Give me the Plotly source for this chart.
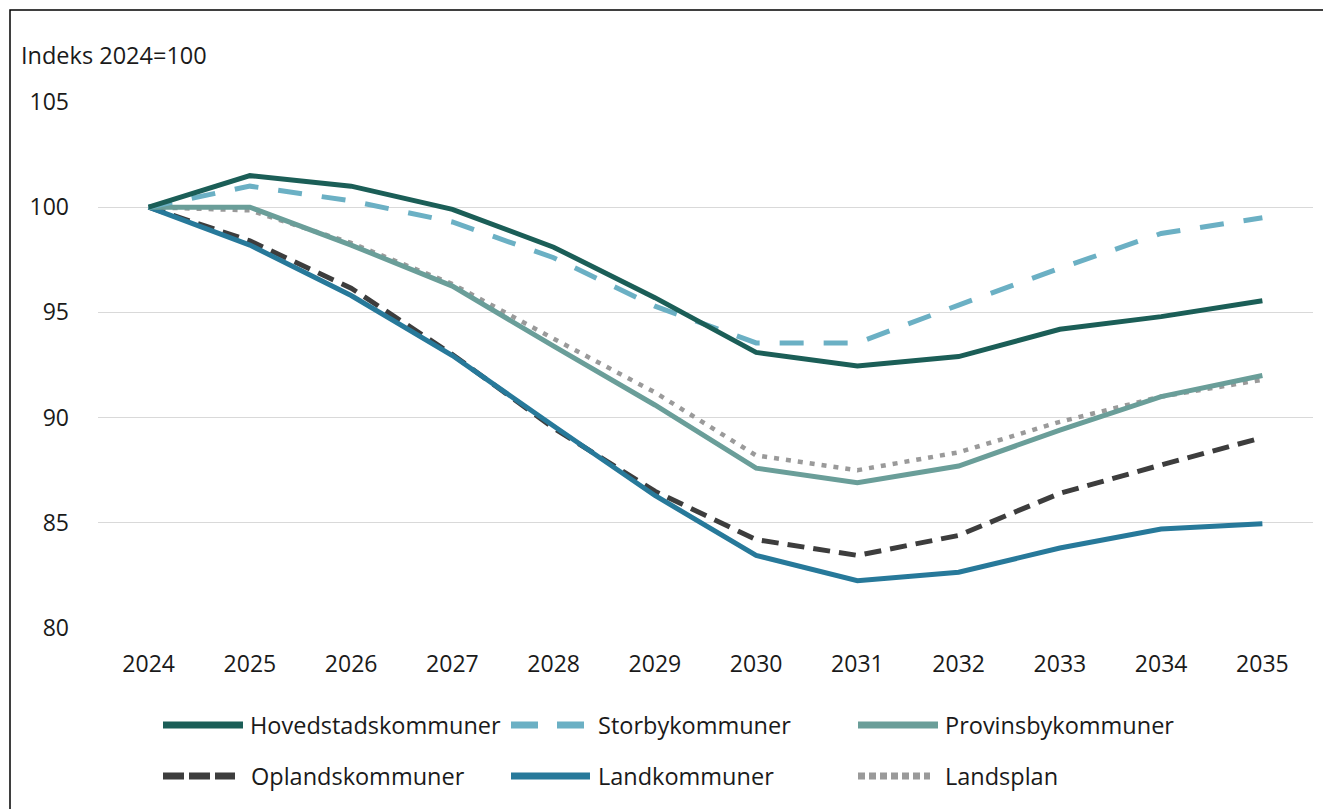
import plotly.graph_objects as go

years = ["2024", "2025", "2026", "2027", "2028", "2029", "2030", "2031", "2032", "2033", "2034", "2035"]

hovedstad = [100, 101.5, 101.0, 99.9, 98.1, 95.7, 93.1, 92.45, 92.9, 94.2, 94.8, 95.55]
storby = [100, 101.0, 100.3, 99.3, 97.6, 95.3, 93.55, 93.55, 95.35, 97.1, 98.75, 99.5]
provinsby = [100, 100.0, 98.2, 96.25, 93.4, 90.6, 87.6, 86.9, 87.7, 89.4, 91.0, 92.0]
oplands = [100, 98.4, 96.15, 93.0, 89.5, 86.5, 84.2, 83.45, 84.4, 86.4, 87.75, 89.05]
land = [100, 98.2, 95.8, 92.95, 89.6, 86.3, 83.45, 82.25, 82.65, 83.8, 84.7, 84.95]
landsplan = [100, 99.85, 98.3, 96.35, 93.75, 91.2, 88.2, 87.5, 88.35, 89.8, 91.0, 91.8]

names = ["Hovedstadskommuner", "Storbykommuner", "Provinsbykommuner",
         "Oplandskommuner", "Landkommuner", "Landsplan"]
values = [hovedstad, storby, provinsby, oplands, land, landsplan]
colors = ["#1b5e57", "#6bb0c4", "#6a9e99", "#3d3d3d", "#27799a", "#9a9a9a"]
dashes = ["solid", "24px,20px", "solid", "17px,9px", "solid", "5px,7px"]
widths = [5, 5, 5, 5, 5, 4.5]
legend_dashes = ["solid", "27px,19px", "solid", "21px,5px", "solid", "7px,4px"]
draw_order = [5, 3, 4, 2, 1, 0]

FONT = "Open Sans"
TXT = "#1a1a1a"

fig = go.Figure()
for i in draw_order:
    fig.add_trace(go.Scatter(
        x=years, y=values[i], name=names[i], mode="lines",
        line=dict(color=colors[i], width=widths[i], dash=dashes[i]),
        showlegend=False,
    ))

# page has an 8px body margin; figure coords = page coords - 8
OFF = 8
W, H = 1323, 801
L, R, T, B = 98 - OFF, 1313 - OFF, 102 - OFF, 628 - OFF
def px(xp):
    return (xp - OFF - L) / (R - L)
def py(yp):
    return (B - (yp - OFF)) / (B - T)

shapes = []
annotations = []

# outer frame
shapes.append(dict(type="rect", xref="paper", yref="paper",
                   x0=px(10), x1=px(1328), y0=py(820), y1=py(10),
                   line=dict(color="#000000", width=1.5), fillcolor="rgba(0,0,0,0)"))

# custom legend (symbol start, symbol end, text x, row y) in page px
legend_pos = [(163, 243, 248, 725), (511, 584, 596, 725), (858, 938, 943, 725),
              (163, 235, 249, 776), (511, 590, 596, 776), (858, 930, 943, 776)]
for i, (s0, s1, tx, yy) in enumerate(legend_pos):
    shapes.append(dict(type="line", xref="paper", yref="paper",
                       x0=px(s0), x1=px(s1), y0=py(yy), y1=py(yy),
                       line=dict(color=colors[i], width=7, dash=legend_dashes[i])))
    annotations.append(dict(text=names[i], xref="paper", yref="paper",
                            x=px(tx), y=py(yy), xanchor="left", yanchor="middle",
                            showarrow=False, font=dict(family=FONT, size=23.5, color=TXT)))

annotations.append(dict(text="Indeks 2024=100", xref="paper", yref="paper",
                        x=px(19), y=py(55), xanchor="left", yanchor="middle",
                        showarrow=False, font=dict(family=FONT, size=23.5, color=TXT)))

fig.update_layout(
    width=W, height=H,
    margin=dict(l=L, r=W - R, t=T, b=H - B),
    paper_bgcolor="white", plot_bgcolor="white",
    font=dict(family=FONT, size=23, color=TXT),
    shapes=shapes, annotations=annotations,
    showlegend=False,
    xaxis=dict(type="category", range=[-0.5, 11.5], showgrid=False, zeroline=False,
               showline=False, ticks="", ticklabelstandoff=20,
               tickfont=dict(family=FONT, size=23, color=TXT)),
    yaxis=dict(range=[80, 105], tickvals=[80, 85, 90, 95, 100, 105],
               showgrid=True, gridcolor="#d9d9d9", gridwidth=1, zeroline=False,
               showline=False, ticks="", ticklabelstandoff=28,
               tickfont=dict(family=FONT, size=23, color=TXT)),
)

fig.write_html("out.html")
